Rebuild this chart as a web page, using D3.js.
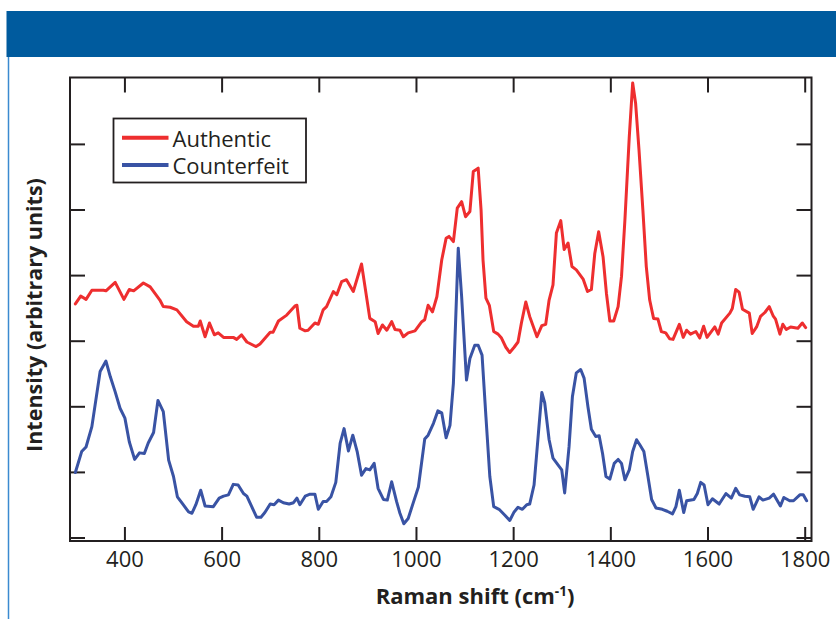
<!DOCTYPE html>
<html>
<head>
<meta charset="utf-8">
<script src="https://cdn.jsdelivr.net/npm/d3@7"></script>
<style>
  html, body { margin: 0; padding: 0; background: #ffffff; }
  svg { display: block; }
</style>
</head>
<body>
<svg id="chart" width="836" height="619"></svg>
<script>
// Raman spectra: wavenumber (cm-1) and intensity (arbitrary units)
const authenticShift = [299,310,321,333,357,362,381,399,410,419,439,453,467,473,480,494,508,528,542,552,556,566,575,585,593,604,624,631,641,652,671,679,700,706,717,734,751,755,761,772,778,792,799,809,816,830,837,847,857,871,888,905,916,922,931,940,950,957,967,974,984,998,1012,1018,1025,1034,1043,1053,1062,1068,1077,1085,1094,1102,1111,1118,1128,1134,1138,1144,1151,1160,1169,1176,1185,1193,1202,1210,1217,1226,1234,1249,1259,1267,1274,1282,1289,1298,1305,1313,1321,1330,1344,1353,1361,1368,1376,1385,1392,1399,1407,1416,1423,1430,1439,1446,1452,1459,1467,1474,1481,1489,1498,1505,1514,1522,1529,1542,1550,1557,1565,1576,1584,1592,1599,1615,1622,1629,1646,1651,1658,1665,1672,1686,1692,1701,1709,1718,1727,1735,1740,1749,1755,1762,1771,1786,1795,1802];
const authenticIntensity = [3.56,3.68,3.63,3.77,3.77,3.76,3.89,3.63,3.78,3.76,3.88,3.82,3.68,3.62,3.52,3.51,3.47,3.29,3.22,3.22,3.30,3.06,3.27,3.09,3.12,3.05,3.05,3.02,3.09,2.98,2.91,2.95,3.13,3.13,3.30,3.39,3.53,3.54,3.19,3.15,3.16,3.27,3.25,3.47,3.52,3.75,3.70,3.90,3.93,3.75,4.17,3.34,3.29,3.11,3.24,3.16,3.29,3.17,3.16,3.06,3.12,3.15,3.29,3.32,3.54,3.44,3.67,4.23,4.56,4.59,4.51,5.02,5.12,4.89,4.97,5.58,5.63,4.99,4.23,3.65,3.54,3.14,3.10,3.04,2.90,2.82,2.90,2.98,3.27,3.59,3.37,3.06,3.23,3.25,3.62,3.85,4.64,4.83,4.39,4.49,4.13,4.08,3.94,3.75,3.78,4.33,4.66,4.28,3.72,3.30,3.30,3.52,3.98,4.84,6.11,6.93,6.62,5.91,4.99,4.13,3.62,3.34,3.33,3.14,3.12,3.03,3.02,3.25,3.05,3.16,3.10,3.14,3.04,3.22,3.05,3.21,3.10,3.27,3.42,3.49,3.78,3.74,3.48,3.42,3.11,3.21,3.37,3.43,3.52,3.38,3.33,3.10,3.25,3.17,3.21,3.19,3.27,3.20];

const counterfeitShift = [299,312,321,333,350,362,371,381,391,401,410,421,431,441,449,460,469,480,491,501,509,521,532,539,547,557,566,583,595,604,614,624,634,645,652,662,672,681,689,700,708,717,727,739,748,755,761,772,782,792,799,809,816,825,835,844,852,861,870,879,888,897,905,914,922,933,941,950,960,967,975,984,994,1005,1018,1025,1036,1045,1053,1062,1070,1077,1087,1094,1104,1111,1121,1128,1136,1144,1152,1160,1171,1183,1193,1202,1210,1219,1228,1234,1243,1252,1259,1265,1274,1282,1295,1300,1306,1315,1322,1330,1339,1346,1354,1361,1370,1377,1384,1391,1399,1408,1416,1423,1430,1439,1446,1454,1461,1469,1477,1485,1494,1507,1517,1528,1535,1542,1551,1557,1572,1579,1586,1593,1601,1610,1624,1638,1649,1658,1666,1677,1687,1694,1706,1714,1727,1736,1750,1757,1769,1777,1790,1797,1804];
const counterfeitIntensity = [0.99,1.31,1.38,1.69,2.53,2.69,2.45,2.22,1.97,1.82,1.46,1.19,1.29,1.28,1.44,1.60,2.09,1.92,1.18,0.93,0.62,0.50,0.39,0.37,0.50,0.72,0.48,0.47,0.60,0.63,0.65,0.81,0.80,0.67,0.63,0.47,0.31,0.31,0.38,0.51,0.50,0.57,0.53,0.51,0.53,0.60,0.50,0.63,0.66,0.66,0.43,0.55,0.55,0.62,0.84,1.44,1.66,1.32,1.56,1.31,0.95,1.05,1.03,1.13,0.75,0.58,0.57,0.85,0.55,0.37,0.21,0.29,0.52,0.77,1.50,1.56,1.74,1.93,1.90,1.52,1.71,2.35,4.41,3.67,2.40,2.73,2.93,2.93,2.78,1.84,0.93,0.47,0.43,0.34,0.26,0.39,0.46,0.43,0.50,0.51,0.80,1.59,2.21,2.05,1.49,1.21,1.08,1.03,0.68,1.38,2.15,2.51,2.56,2.43,1.99,1.65,1.54,1.55,1.28,0.93,0.89,1.13,1.19,1.13,0.88,1.03,1.31,1.49,1.41,1.31,0.95,0.58,0.45,0.43,0.40,0.36,0.47,0.72,0.38,0.56,0.58,0.67,0.84,0.80,0.50,0.59,0.51,0.67,0.60,0.75,0.65,0.63,0.62,0.43,0.62,0.57,0.60,0.66,0.48,0.61,0.56,0.56,0.65,0.65,0.56];

const seriesNames = ["Authentic", "Counterfeit"];
const seriesColors = ["#ee2e2f", "#3953a4"];
const xTicks = [400, 600, 800, 1000, 1200, 1400, 1600, 1800];
const yTicks = [0, 1, 2, 3, 4, 5, 6];

const svg = d3.select("#chart");
const W = 836, H = 619;
const plot = { left: 70, top: 77.5, right: 811.5, bottom: 541 };
const ink = "#231f20";

// Page banner and left rule
svg.append("rect").attr("x", 6.5).attr("y", 11).attr("width", W - 6.5).attr("height", 46)
  .attr("fill", "#005b9e");
svg.append("line").attr("x1", 8.5).attr("x2", 8.5).attr("y1", 57).attr("y2", H)
  .attr("stroke", "#3b8ad0").attr("stroke-width", 1.5);

const x = d3.scaleLinear().domain([288, 1814]).range([plot.left, plot.right]);
const y = d3.scaleLinear().domain([0, 7]).range([537.5, 78.3]);

// Axes with inward ticks on all four sides
function styleAxis(g) {
  g.select(".domain").remove();
  g.selectAll(".tick line").attr("stroke", ink).attr("stroke-width", 2);
}
svg.append("g").attr("transform", `translate(0,${plot.bottom})`)
  .call(d3.axisBottom(x).tickValues(xTicks).tickFormat(d3.format("d"))
    .tickSizeInner(-14).tickSizeOuter(0).tickPadding(10.5))
  .call(styleAxis)
  .call(g => g.selectAll(".tick text")
    .attr("fill", ink).attr("font-family", "'Open Sans', sans-serif").attr("font-size", 22));
svg.append("g").attr("transform", `translate(0,${plot.top})`)
  .call(d3.axisTop(x).tickValues(xTicks).tickSizeInner(-15).tickSizeOuter(0).tickFormat(""))
  .call(styleAxis);
svg.append("g").attr("transform", `translate(${plot.left},0)`)
  .call(d3.axisLeft(y).tickValues(yTicks).tickSizeInner(-15).tickSizeOuter(0).tickFormat(""))
  .call(styleAxis);
svg.append("g").attr("transform", `translate(${plot.right},0)`)
  .call(d3.axisRight(y).tickValues(yTicks).tickSizeInner(-15).tickSizeOuter(0).tickFormat(""))
  .call(styleAxis);

// Plot frame
svg.append("rect").attr("x", plot.left).attr("y", plot.top)
  .attr("width", plot.right - plot.left).attr("height", plot.bottom - plot.top)
  .attr("fill", "none").attr("stroke", ink).attr("stroke-width", 2);

// Spectra
const line = d3.line().x(d => x(d[0])).y(d => y(d[1]));
const series = [
  d3.zip(authenticShift, authenticIntensity),
  d3.zip(counterfeitShift, counterfeitIntensity)
];
series.forEach((pts, i) => {
  svg.append("path").datum(pts).attr("d", line)
    .attr("fill", "none").attr("stroke", seriesColors[i]).attr("stroke-width", 3)
    .attr("stroke-linejoin", "round").attr("stroke-linecap", "round");
});

// Legend
const lg = svg.append("g");
lg.append("rect").attr("x", 113.5).attr("y", 118.5).attr("width", 192.5).attr("height", 64)
  .attr("fill", "#ffffff").attr("stroke", ink).attr("stroke-width", 1.8);
seriesNames.forEach((name, i) => {
  const ly = 137.7 + i * 27.3;
  lg.append("line").attr("x1", 122).attr("x2", 168.5).attr("y1", ly).attr("y2", ly)
    .attr("stroke", seriesColors[i]).attr("stroke-width", 4);
  lg.append("text").attr("x", 172.5).attr("y", ly + 9)
    .attr("font-family", "'Open Sans', sans-serif").attr("font-size", 22).attr("fill", ink)
    .text(name);
});

// Axis titles
const xt = svg.append("text").attr("x", 475).attr("y", 604).attr("text-anchor", "middle")
  .attr("font-family", "'Open Sans', sans-serif").attr("font-weight", 700).attr("font-size", 22)
  .attr("fill", ink);
xt.append("tspan").text("Raman shift (cm");
xt.append("tspan").attr("font-size", 13.5).attr("dy", -8).text("-1");
xt.append("tspan").attr("dy", 8).text(")");

svg.append("text").attr("transform", "translate(42,315) rotate(-90)").attr("text-anchor", "middle")
  .attr("font-family", "'Open Sans', sans-serif").attr("font-weight", 700).attr("font-size", 21.5)
  .attr("fill", ink).text("Intensity (arbitrary units)");
</script>
</body>
</html>
